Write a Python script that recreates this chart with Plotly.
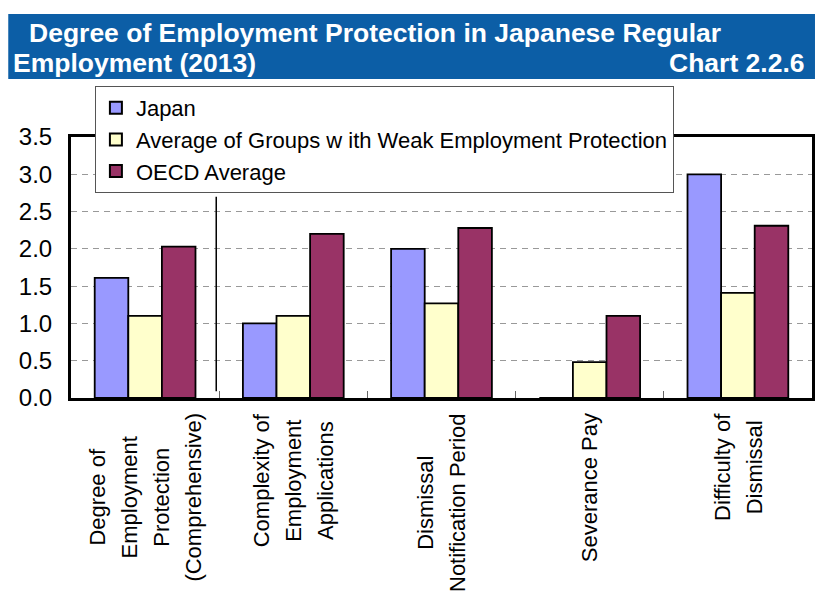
import plotly.graph_objects as go

# Chart data
category_lines = [
    ["Degree of", "Employment", "Protection", "(Comprehensive)"],
    ["Complexity of", "Employment", "Applications"],
    ["Dismissal", "Notification Period"],
    ["Severance Pay"],
    ["Difficulty of", "Dismissal"],
]
series_names = [
    "Japan",
    "Average of Groups w ith Weak Employment Protection",
    "OECD Average",
]
japan = [1.61, 1.0, 2.0, 0.0, 3.0]
weak_protection_avg = [1.1, 1.1, 1.27, 0.48, 1.41]
oecd_avg = [2.03, 2.2, 2.28, 1.1, 2.31]
y_ticks = [0.0, 0.5, 1.0, 1.5, 2.0, 2.5, 3.0, 3.5]

title_line1 = "Degree of Employment Protection in Japanese Regular"
title_line2 = "Employment (2013)"
chart_no = "Chart 2.2.6"

# Styling
W, H = 818, 592
ML, MR, MT, MB = 71, 3, 137, 194
PW, PH = W - ML - MR, H - MT - MB
FONT = "Liberation Sans, Arial, sans-serif"
colors = ["#9999FF", "#FFFFCC", "#993366"]
LABEL_SIZE = 22
LABEL_LINE_GAP = 32  # distance between label lines, px


def px_x(px):
    return (px - ML) / PW


def px_y(py):
    return (H - MB - py) / PH


cats = ["<br>".join(lines) for lines in category_lines]

fig = go.Figure()
for name, vals, col in zip(series_names, [japan, weak_protection_avg, oecd_avg], colors):
    fig.add_trace(go.Bar(
        x=cats, y=vals, name=name,
        marker=dict(color=col, line=dict(color="black", width=1.8)),
    ))

# Rotated category labels under the axis, lines centred; the outer font size
# sets the line pitch while each line is drawn at LABEL_SIZE
annotations = []
for c, lines in zip(cats, category_lines):
    txt = "<br>".join('<span style="font-size:%dpx">%s</span>' % (LABEL_SIZE, ln) for ln in lines)
    annotations.append(dict(
        x=c, xref="x", y=0, yref="paper", yshift=-13,
        text=txt, textangle=-90, showarrow=False,
        xanchor="center", yanchor="top", align="center",
        font=dict(family=FONT, size=LABEL_LINE_GAP / 1.3, color="black"),
    ))

# Title band text
annotations += [
    dict(x=px_x(27), y=px_y(33), xref="paper", yref="paper", text="<b>%s</b>" % title_line1,
         showarrow=False, xanchor="left", yanchor="middle",
         font=dict(family=FONT, size=26.5, color="white")),
    dict(x=px_x(11), y=px_y(63), xref="paper", yref="paper", text="<b>%s</b>" % title_line2,
         showarrow=False, xanchor="left", yanchor="middle",
         font=dict(family=FONT, size=26.5, color="white")),
    dict(x=px_x(810), y=px_y(63), xref="paper", yref="paper", text="<b>%s</b>" % chart_no,
         showarrow=False, xanchor="right", yanchor="middle",
         font=dict(family=FONT, size=26.5, color="white")),
]

shapes = [
    # blue title band
    dict(type="rect", xref="paper", yref="paper", layer="below",
         x0=px_x(8), x1=px_x(818), y0=px_y(79), y1=px_y(14),
         fillcolor="#0C5EA6", line=dict(width=0)),
    # divider between overall index and its components
    dict(type="line", xref="x", yref="y", x0=0.48, x1=0.48, y0=0.09, y1=2.7,
         line=dict(color="black", width=1.5)),
]

fig.update_layout(
    width=W, height=H,
    margin=dict(l=ML, r=MR, t=MT, b=MB),
    paper_bgcolor="white", plot_bgcolor="white",
    barmode="group", bargap=0.32, bargroupgap=0,
    font=dict(family=FONT, color="black"),
    showlegend=True,
    legend=dict(
        x=px_x(95), y=px_y(86), xanchor="left", yanchor="top",
        bgcolor="white", bordercolor="#555", borderwidth=1,
        font=dict(family=FONT, size=22, color="black"),
        itemsizing="constant", traceorder="normal",
    ),
    annotations=annotations,
    shapes=shapes,
    xaxis=dict(
        showticklabels=False, showline=True, linecolor="black", linewidth=3,
        mirror=True, ticks="inside", tickson="boundaries", ticklen=7,
        tickcolor="#666", tickwidth=1, showgrid=False,
    ),
    yaxis=dict(
        range=[0, 3.5], tickvals=y_ticks, ticktext=["%.1f" % v for v in y_ticks],
        showline=True, linecolor="black", linewidth=3, mirror=True,
        ticks="", ticklabelstandoff=11,
        showgrid=True, gridcolor="#999", gridwidth=1, griddash="6px,5px",
        zeroline=False,
        tickfont=dict(family=FONT, size=24, color="black"),
    ),
)

fig.write_html("out.html")
